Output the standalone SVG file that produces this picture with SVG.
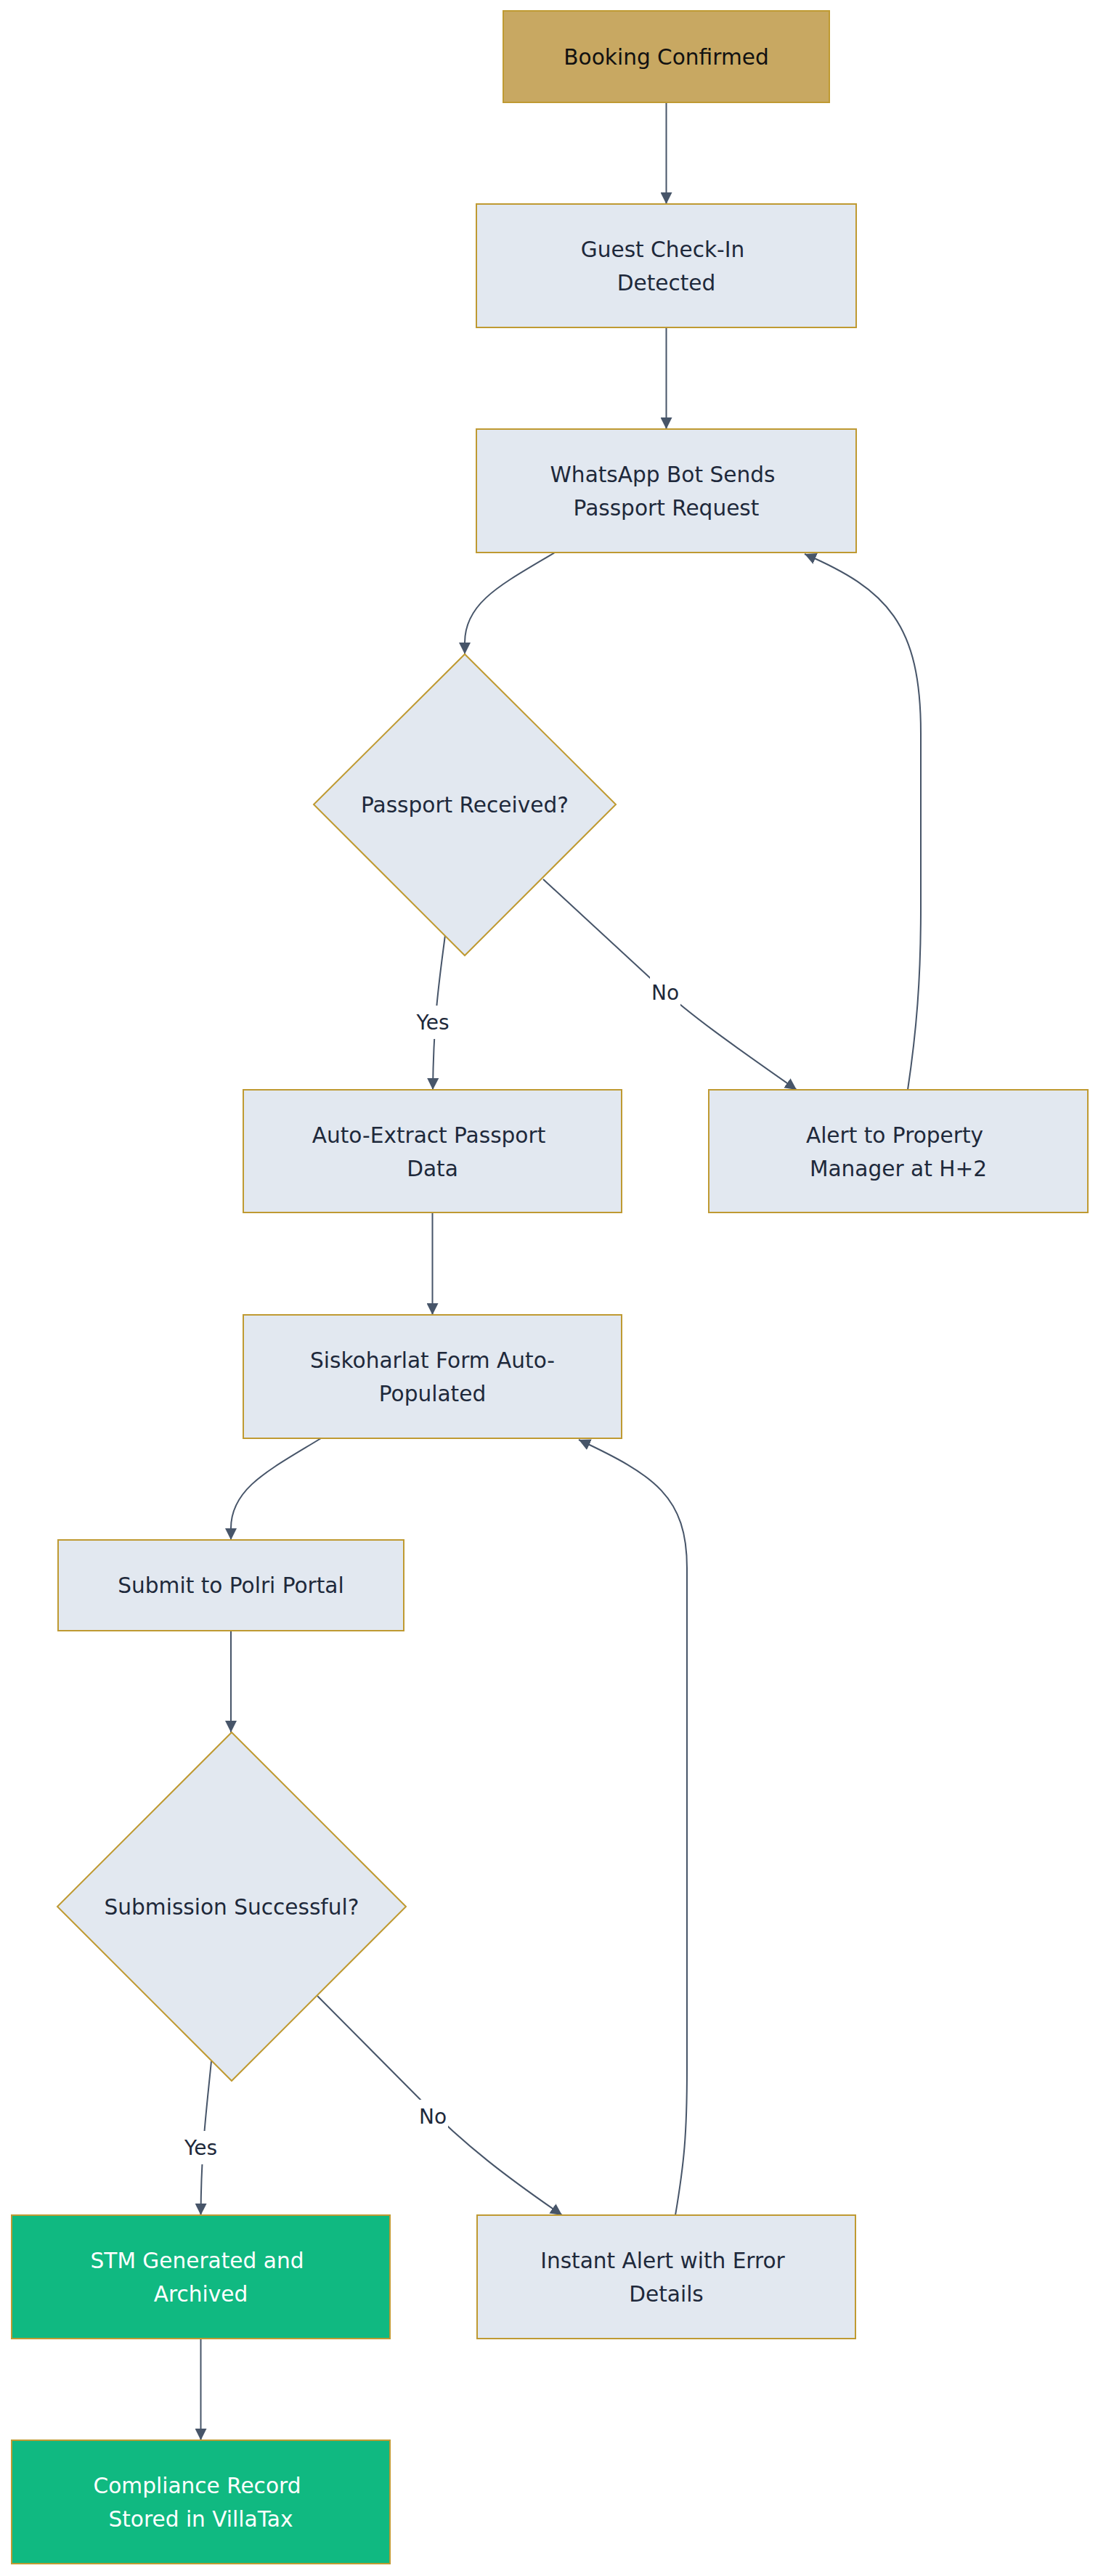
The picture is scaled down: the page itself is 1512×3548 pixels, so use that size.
<svg xmlns="http://www.w3.org/2000/svg" width="1512" height="3548" viewBox="0 0 1512 3548">
  <style>
    .node rect, .node polygon { stroke: #bf9a32; stroke-width: 2; }
    .proc { fill: #e2e8f0; }
    .start { fill: #c8a862; }
    .done { fill: #10b981; }
    .t { font-family: "DejaVu Sans", "Liberation Sans", sans-serif; font-size: 29.6px; fill: #1e293b; text-anchor: middle; }
    .tb { fill: #111111; }
    .tw { fill: #ffffff; }
    .edges path { fill: none; stroke: #475569; stroke-width: 2; }
    .lbl { font-family: "DejaVu Sans", "Liberation Sans", sans-serif; font-size: 28px; fill: #1e293b; text-anchor: middle; }
    .lblbg { fill: #ffffff; }
  </style>
  <defs>
    <marker id="arrow" viewBox="0 0 16 16" refX="16" refY="8" markerWidth="16" markerHeight="16" markerUnits="userSpaceOnUse" orient="auto">
      <path d="M0,0 L16,8 L0,16 z" fill="#475569"/>
    </marker>
  </defs>
  <rect x="0" y="0" width="1512" height="3548" fill="#ffffff"/>

  <g id="edges" class="edges">
    <path d="M917.5,141 L917.5,281" marker-end="url(#arrow)"/>
    <path d="M917.5,451 L917.5,591" marker-end="url(#arrow)"/>
    <path d="M764,761 C690,805 640,830 640,885 L640,901" marker-end="url(#arrow)"/>
    <path d="M613,1288 C605,1350 597,1400 596,1501" marker-end="url(#arrow)"/>
    <path d="M748,1211 L905,1356 C950,1398 1010,1440 1097,1501" marker-end="url(#arrow)"/>
    <path d="M1250,1501 C1262,1420 1268,1350 1268,1250 L1268,1010 C1268,860 1222,812 1108,763" marker-end="url(#arrow)"/>
    <path d="M595.5,1670 L595.5,1811" marker-end="url(#arrow)"/>
    <path d="M442,1981 C370,2025 318,2050 318,2105 L318,2121" marker-end="url(#arrow)"/>
    <path d="M318,2246 L318,2386" marker-end="url(#arrow)"/>
    <path d="M291,2839 C284,2910 277,2960 276.5,3051" marker-end="url(#arrow)"/>
    <path d="M437,2749 L580,2893 C640,2955 700,3000 774,3051" marker-end="url(#arrow)"/>
    <path d="M930,3051 C942,2980 946,2940 946,2850 L946,2160 C946,2062 902,2032 797,1983" marker-end="url(#arrow)"/>
    <path d="M276.5,3221 L276.5,3361" marker-end="url(#arrow)"/>
  </g>

  <g id="edge-labels">
    <rect class="lblbg" x="572" y="1385" width="48" height="46"/>
    <text class="lbl" x="596" y="1418">Yes</text>
    <rect class="lblbg" x="895" y="1344" width="42" height="46"/>
    <text class="lbl" x="916" y="1377">No</text>
    <rect class="lblbg" x="252" y="2935" width="49" height="46"/>
    <text class="lbl" x="276.5" y="2968">Yes</text>
    <rect class="lblbg" x="575" y="2892" width="42" height="46"/>
    <text class="lbl" x="596" y="2925">No</text>
  </g>

  <g id="node-booking" class="node">
    <rect class="start" x="693" y="15" width="449" height="126"/>
    <text class="t tb" x="917.5" y="89">Booking Confirmed</text>
  </g>
  <g id="node-checkin" class="node">
    <rect class="proc" x="656" y="281" width="523" height="170"/>
    <text class="t" x="912.5" y="354">Guest Check-In</text>
    <text class="t" x="917.5" y="400">Detected</text>
  </g>
  <g id="node-whatsapp" class="node">
    <rect class="proc" x="656" y="591" width="523" height="170"/>
    <text class="t" x="912.5" y="664">WhatsApp Bot Sends</text>
    <text class="t" x="917.5" y="710">Passport Request</text>
  </g>
  <g id="node-passport-received" class="node">
    <polygon class="proc" points="640,901 848,1108 640,1316 432,1108"/>
    <text class="t" x="640" y="1119">Passport Received?</text>
  </g>
  <g id="node-auto-extract" class="node">
    <rect class="proc" x="335" y="1501" width="521" height="169"/>
    <text class="t" x="590.5" y="1574">Auto-Extract Passport</text>
    <text class="t" x="595.5" y="1620">Data</text>
  </g>
  <g id="node-alert-manager" class="node">
    <rect class="proc" x="976" y="1501" width="522" height="169"/>
    <text class="t" x="1232" y="1574">Alert to Property</text>
    <text class="t" x="1237" y="1620">Manager at H+2</text>
  </g>
  <g id="node-siskoharlat" class="node">
    <rect class="proc" x="335" y="1811" width="521" height="170"/>
    <text class="t" x="595.5" y="1884">Siskoharlat Form Auto-</text>
    <text class="t" x="595.5" y="1930">Populated</text>
  </g>
  <g id="node-submit" class="node">
    <rect class="proc" x="80" y="2121" width="476" height="125"/>
    <text class="t" x="318" y="2194">Submit to Polri Portal</text>
  </g>
  <g id="node-submission-successful" class="node">
    <polygon class="proc" points="319,2386 559,2626 319,2866 79,2626"/>
    <text class="t" x="319" y="2637">Submission Successful?</text>
  </g>
  <g id="node-stm" class="node">
    <rect class="done" x="16" y="3051" width="521" height="170"/>
    <text class="t tw" x="271.5" y="3124">STM Generated and</text>
    <text class="t tw" x="276.5" y="3170">Archived</text>
  </g>
  <g id="node-instant-alert" class="node">
    <rect class="proc" x="657" y="3051" width="521" height="170"/>
    <text class="t" x="912.5" y="3124">Instant Alert with Error</text>
    <text class="t" x="917.5" y="3170">Details</text>
  </g>
  <g id="node-compliance" class="node">
    <rect class="done" x="16" y="3361" width="521" height="170"/>
    <text class="t tw" x="271.5" y="3434">Compliance Record</text>
    <text class="t tw" x="276.5" y="3480">Stored in VillaTax</text>
  </g>
</svg>
